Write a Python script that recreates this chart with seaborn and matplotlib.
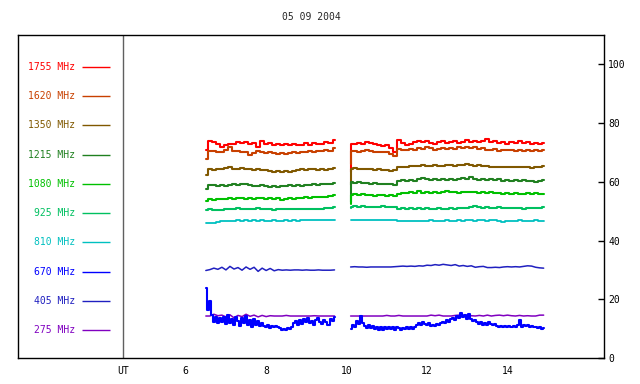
import numpy as np
import pandas as pd
import matplotlib
matplotlib.use("Agg")
import matplotlib.pyplot as plt
import seaborn as sns

# ------------------------------------------------------------
# DATA  (two observing segments)
# ------------------------------------------------------------
title = "05 09 2004"
freq_labels = ["1755 MHz", "1620 MHz", "1350 MHz", "1215 MHz", "1080 MHz",
               "925 MHz", "810 MHz", "670 MHz", "405 MHz", "275 MHz"]
freq_colors = ["#ff0000", "#c84000", "#805800", "#208020", "#00c000",
               "#00c060", "#00c0c0", "#0000ff", "#2020c0", "#8000c0"]
x_ticks = [6, 8, 10, 12, 14]
y_ticks = [0, 20, 40, 60, 80, 100]

# segment 1: 6.5 .. 9.7 UT every 0.1 h
seg1_start, seg1_step = 6.5, 0.1
# segment 2: first sample repeated (start transient), then 10.1 .. 14.9 every 0.1 h
seg2_start, seg2_step = 10.1, 0.1
# fine grid for the 670 MHz trace (0.05 h)
fine_step = 0.05

f1755_a = [70.7, 74.0, 73.4, 73.0, 71.9,
           72.6, 73.0, 72.8, 73.4, 73.2, 73.6, 73.0, 73.3, 72.0, 73.9,
           72.8, 73.3, 72.6, 73.0, 72.5, 72.9, 72.4, 72.8, 72.5, 72.6,
           73.2, 72.7, 73.3, 72.8, 73.0, 73.4, 73.2, 74.1]
f1755_b = [63.3,
           73.0, 72.8, 73.2, 73.0, 73.5, 73.3, 73.0, 72.6, 72.2,
           72.6, 71.5, 70.2, 74.4, 73.2, 72.6, 73.0, 73.6, 74.0, 73.4,
           73.9, 73.3, 73.0, 73.4, 73.8, 73.1, 73.5, 73.9, 73.3, 73.6,
           74.1, 73.5, 73.8, 73.4, 74.0, 74.6, 73.6, 73.9, 73.2, 73.5,
           73.0, 73.6, 73.2, 73.8, 73.1, 73.4, 72.8, 73.3, 73.0, 73.2]

f1620_a = [67.7, 70.6, 70.4, 70.0, 70.3,
           71.0, 71.8, 70.6, 70.4, 70.1, 70.3, 69.2, 69.8, 70.5, 70.0,
           69.7, 70.0, 69.8, 69.5, 69.9, 69.6, 69.8, 70.1, 69.8, 70.3,
           70.0, 70.4, 70.2, 70.6, 70.4, 70.8, 70.6, 71.5]
f1620_b = [66.0,
           70.5, 70.6, 70.3, 70.5, 70.7, 70.4, 70.2, 70.3, 70.0,
           70.2, 69.4, 68.9, 71.2, 70.8, 71.0, 71.2, 70.9, 71.4, 71.3,
           71.9, 71.6, 71.0, 71.2, 71.4, 71.1, 71.5, 71.3, 71.8, 71.6,
           71.9, 71.5, 71.7, 71.2, 71.4, 71.0, 70.8, 71.1, 70.6, 70.9,
           70.7, 71.0, 70.5, 70.8, 70.6, 70.9, 70.4, 70.7, 70.5, 70.8]

f1350_a = [62.3, 64.3, 64.0, 64.4, 64.2,
           64.6, 64.9, 64.5, 64.3, 64.6, 64.2, 64.4, 64.0, 64.3, 63.9,
           64.1, 63.7, 63.5, 63.8, 63.4, 63.6, 63.5, 63.8, 64.0, 64.2,
           64.0, 64.3, 64.4, 64.1, 64.3, 64.0, 64.2, 64.6]
f1350_b = [59.0,
           64.5, 64.6, 64.4, 64.5, 64.2, 64.4, 64.1, 64.2, 64.0,
           64.1, 63.8, 63.9, 65.0, 65.1, 65.0, 65.3, 65.5, 65.4, 65.7,
           65.5, 65.4, 65.6, 65.4, 65.5, 65.8, 65.7, 65.5, 65.8, 65.6,
           65.9, 65.7, 65.5, 65.6, 65.3, 65.4, 65.1, 65.0, 65.2, 65.0,
           65.1, 64.9, 65.0, 65.1, 64.9, 65.0, 64.8, 65.0, 65.1, 65.3]

f1215_a = [57.6, 58.8, 59.0, 58.7, 58.9,
           58.6, 58.9, 59.1, 58.8, 59.4, 59.3, 58.9, 58.7, 58.5, 58.9,
           58.6, 58.3, 58.6, 58.2, 58.7, 58.5, 58.9, 58.6, 58.9, 58.7,
           59.0, 58.8, 59.1, 59.0, 59.3, 59.1, 59.4, 59.6]
f1215_b = [53.0,
           59.8, 59.6, 59.9, 59.5, 59.7, 59.3, 59.5, 59.2, 59.4,
           59.1, 59.3, 59.0, 60.3, 60.5, 60.2, 60.6, 60.4, 60.8, 61.2,
           60.9, 60.6, 60.8, 60.5, 60.9, 60.7, 61.0, 60.6, 60.9, 61.3,
           61.0, 61.6, 60.9, 60.6, 61.0, 60.7, 60.9, 60.5, 60.8, 60.4,
           60.6, 60.2, 60.5, 60.3, 60.6, 60.2, 60.4, 60.1, 60.3, 60.5]

f1080_a = [53.5, 54.2, 53.9, 54.2, 54.0,
           54.3, 54.5, 54.1, 54.4, 54.6, 54.3, 54.5, 54.2, 54.4, 54.6,
           54.3, 54.5, 54.1, 54.4, 53.9, 54.2, 54.4, 54.3, 54.6, 54.5,
           54.7, 54.5, 54.8, 54.7, 55.0, 54.8, 55.1, 55.4]
f1080_b = [52.5,
           55.6, 55.8, 55.5, 55.7, 55.4, 55.6, 55.3, 55.5, 55.6,
           55.3, 55.5, 55.2, 56.0, 56.3, 56.1, 56.4, 56.2, 56.8, 56.3,
           56.5, 56.2, 56.6, 56.3, 56.5, 56.8, 56.4, 56.6, 56.3, 56.5,
           56.7, 56.4, 56.6, 56.3, 56.5, 56.2, 56.4, 56.1, 56.3, 56.0,
           56.2, 55.9, 56.1, 55.8, 56.0, 56.2, 55.9, 56.1, 55.8, 56.0]

f925_a = [50.5, 50.7, 50.4, 50.3, 50.5,
          50.7, 50.8, 50.6, 51.0, 50.8, 50.9, 50.7, 50.8, 51.0, 50.6,
          50.8, 50.7, 50.4, 50.8, 50.6, 50.9, 50.7, 50.8, 50.6, 50.8,
          50.7, 50.9, 50.8, 50.9, 50.7, 51.0, 51.1, 51.4]
f925_b = [51.2,
          51.5, 51.6, 51.4, 51.6, 51.5, 51.3, 51.5, 51.4, 51.6,
          51.4, 51.5, 51.3, 50.9, 51.0, 50.8, 51.0, 50.9, 51.1, 50.8,
          51.0, 50.6, 50.9, 51.0, 50.7, 50.9, 51.1, 50.8, 51.0, 51.2,
          51.1, 51.4, 51.6, 51.3, 51.2, 51.4, 51.2, 51.1, 51.3, 51.1,
          51.2, 51.0, 51.2, 51.1, 50.9, 51.1, 51.0, 51.2, 51.1, 51.3]

f810_a = [46.0, 46.1, 46.0, 46.3, 46.6,
          46.7, 46.6, 46.8, 46.9, 46.7, 47.0, 46.8, 46.9, 46.7, 47.0,
          46.8, 46.6, 46.9, 46.8, 46.7, 46.9, 46.8, 47.0, 46.8, 46.9,
          47.0, 46.9, 47.1, 47.0, 47.0, 47.1, 47.1, 47.1]
f810_b = [46.9,
          47.0, 46.9, 47.0, 46.9, 47.0, 46.9, 47.0, 46.9, 47.0,
          46.9, 47.0, 46.9, 46.6, 46.7, 46.5, 46.7, 46.6, 46.8, 46.6,
          46.7, 46.9, 46.6, 46.8, 46.7, 46.9, 46.7, 46.8, 47.0, 46.8,
          46.9, 47.0, 46.8, 47.0, 46.9, 46.8, 47.0, 46.9, 46.5, 46.4,
          46.6, 46.8, 46.6, 46.9, 46.7, 46.8, 46.6, 46.9, 46.7, 46.6]

f405_a = [29.8, 30.1, 30.6, 30.2, 30.9,
          30.0, 31.2, 30.3, 30.8, 29.9, 31.0, 30.2, 30.9, 29.5, 30.6,
          29.8, 30.5, 29.7, 30.1, 29.9, 30.0, 29.9, 30.0, 30.0, 29.9,
          30.0, 29.9, 29.9, 30.0, 29.9, 29.9, 29.9, 30.0]
f405_b = [31.0,
          31.0, 31.1, 31.0, 31.0, 30.9, 31.0, 31.0, 31.0, 31.0,
          31.0, 31.0, 31.1, 31.2, 31.3, 31.2, 31.3, 31.2, 31.4, 31.3,
          31.6, 31.5, 31.8, 31.6, 31.9, 31.7, 31.5, 31.8, 31.3, 31.5,
          31.2, 31.4, 30.9, 31.1, 31.2, 30.8, 30.8, 30.9, 30.8, 31.0,
          31.1, 31.0, 31.1, 31.0, 31.2, 31.4, 31.3, 30.9, 30.7, 30.6]

f275_a = [14.3, 14.3, 14.9, 14.4, 14.6,
          14.0, 14.7, 13.7, 14.5, 14.1, 14.9, 14.2, 14.6, 14.0, 14.5,
          14.1, 14.4, 14.3, 14.3, 14.3, 14.5, 14.3, 14.3, 14.3, 14.3,
          14.3, 14.3, 14.4, 14.3, 14.3, 14.3, 14.3, 14.3]
f275_b = [14.3,
          14.3, 14.3, 14.3, 14.3, 14.3, 14.3, 14.3, 14.3, 14.3,
          14.5, 14.3, 14.3, 14.5, 14.3, 14.3, 14.3, 14.3, 14.3, 14.3,
          14.3, 14.6, 14.4, 14.6, 14.3, 14.3, 14.3, 14.5, 14.6, 14.4,
          14.6, 14.4, 14.3, 14.5, 14.3, 14.6, 14.3, 14.5, 14.6, 14.4,
          14.6, 14.4, 14.3, 14.5, 14.3, 14.4, 14.3, 14.3, 14.6, 14.6]

# 670 MHz on the 0.05 h grid
f670_a = [24.0, 16.5, 19.5, 14.5, 12.3, 14.0, 11.8, 13.5, 12.2, 13.8,
          11.5, 14.6, 12.0, 13.2, 11.4, 13.8, 12.5, 11.0, 13.5, 12.0,
          14.2, 11.2, 12.8, 10.6, 13.4, 11.3, 12.6, 10.8, 12.0, 11.0,
          10.6, 11.4, 10.2, 10.8, 10.4, 10.9, 10.5, 10.1, 9.7, 10.0,
          9.6, 10.2, 9.8, 10.6, 11.8, 12.5, 11.2, 12.9, 11.6, 13.2,
          12.1, 13.5, 11.8, 12.6, 11.4, 12.8, 13.6, 12.2, 11.5, 13.0,
          12.4, 11.3, 13.4, 12.5, 14.0]
f670_b = [10.0, 11.2, 10.6, 12.5, 11.6, 14.2, 12.0, 11.0, 10.3, 11.2,
          10.1, 10.8, 9.9, 10.6, 9.7, 10.5, 9.6, 10.4,
          9.8, 10.7, 10.0, 10.6, 9.7, 10.4, 10.1, 9.5, 10.3, 9.8,
          10.6, 9.9, 10.4, 10.0, 10.7, 11.3, 11.9, 11.4, 12.1, 11.5,
          11.2, 11.8, 11.0, 11.4, 10.9, 11.5, 11.2, 11.8, 12.3, 12.0,
          12.8, 12.4, 13.2, 13.6, 13.1, 14.2, 13.5, 15.4, 13.8, 14.6,
          13.4, 15.0, 13.2, 12.6, 12.9, 12.1, 11.6, 12.2, 11.3, 11.8,
          11.4, 12.3, 11.7, 11.2, 11.6, 10.9, 10.6, 11.0, 10.4, 10.8,
          10.5, 11.0, 10.6, 10.9, 10.4, 11.2, 12.8, 10.7, 11.3, 10.8,
          11.1, 10.6, 10.9, 10.4, 10.7, 10.2, 10.5, 9.9, 10.1]

# traces paired with the colour seen on the chart
traces = [
    (f1755_a, f1755_b, "#ff0000", "steps-mid", 1.5),
    (f1620_a, f1620_b, "#c84000", "steps-mid", 1.5),
    (f1350_a, f1350_b, "#805800", "steps-mid", 1.5),
    (f1215_a, f1215_b, "#208020", "steps-mid", 1.5),
    (f1080_a, f1080_b, "#00c000", "steps-mid", 1.5),
    (f925_a, f925_b, "#00c060", "steps-mid", 1.5),
    (f810_a, f810_b, "#00c0c0", "steps-mid", 1.3),
    (f405_a, f405_b, "#2020c0", "default", 1.1),
    (f275_a, f275_b, "#8000c0", "default", 1.1),
]

# ------------------------------------------------------------
# FIGURE
# ------------------------------------------------------------
sns.set_style("white")
plt.rcParams["font.family"] = ["DejaVu Sans Mono", "DejaVu Sans"]
plt.rcParams["font.size"] = 7

fig = plt.figure(figsize=(6.4, 3.84), dpi=100)
ax = fig.add_axes([18 / 640, 26 / 384, 586 / 640, 323 / 384])

t1 = seg1_start + seg1_step * np.arange(len(f1755_a))
t2 = np.concatenate([[seg2_start], seg2_start + seg2_step * np.arange(len(f1755_b) - 1)])

for a, b, col, ds, lw in traces:
    assert len(a) == len(t1) and len(b) == len(t2), (len(a), len(b))
    for tt, vv in ((t1, a), (t2, b)):
        sns.lineplot(x=tt, y=vv, ax=ax, color=col, lw=lw, drawstyle=ds,
                     estimator=None, sort=False)

tf1 = seg1_start + fine_step * np.arange(len(f670_a))
tf2 = seg2_start + fine_step * np.arange(len(f670_b))
for tt, vv in ((tf1, f670_a), (tf2, f670_b)):
    sns.lineplot(x=tt, y=vv, ax=ax, color="#0000ff", lw=1.5,
                 drawstyle="steps-mid", estimator=None, sort=False)

# frequency key on the left
key_y = np.linspace(99.1, 9.5, len(freq_labels))
for lab, col, yy in zip(freq_labels, freq_colors, key_y):
    ax.hlines(yy, 3.41, 4.11, color=col, lw=1)
    ax.text(3.24, yy, lab, ha="right", va="center", color=col, fontsize=7)

ut_x = 4.45
ax.axvline(ut_x, color="#606060", lw=1)

ax.set_xlim(1.83, 16.4)
ax.set_ylim(0, 110)
ax.set_xticks([ut_x] + x_ticks)
ax.set_xticklabels(["UT"] + [str(v) for v in x_ticks])
ax.yaxis.tick_right()
ax.set_yticks(y_ticks)
ax.set_xlabel("")
ax.set_ylabel("")
ax.tick_params(axis="x", direction="in", length=4, width=1, pad=6, labelsize=7,
               colors="black")
ax.tick_params(axis="y", direction="in", length=4, width=1, pad=3, labelsize=7,
               colors="black")
for s in ax.spines.values():
    s.set_visible(True)
    s.set_color("black")
    s.set_linewidth(1)

fig.text(311 / 640, 1 - 17 / 384, title, ha="center", va="center", fontsize=7)

fig.savefig("out.png", dpi=100)
